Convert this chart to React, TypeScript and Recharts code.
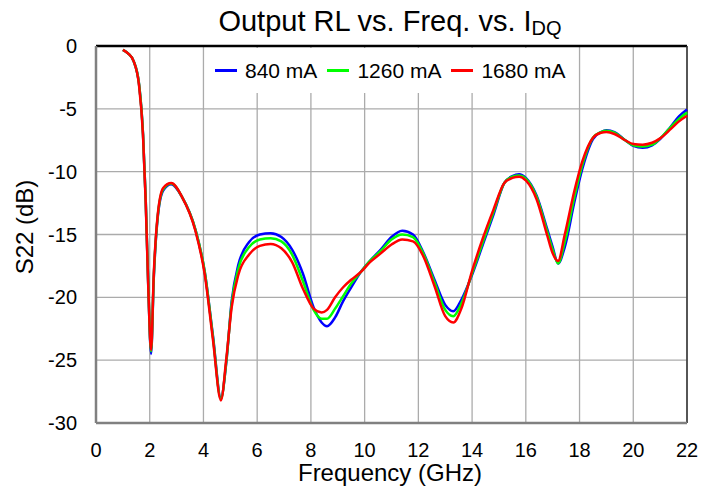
import React from "react";
import { LineChart, Line, XAxis, YAxis, CartesianGrid, ReferenceLine } from "recharts";

// frequency grid (GHz) shared by the three bias curves
const freqGHz = [
  1.0, 1.2, 1.4, 1.6, 1.75, 1.85, 1.95, 2.05, 2.15, 2.3, 2.5, 2.8, 3.2, 3.7, 4.05, 4.35, 4.65, 4.85, 5.05, 5.3,
  5.7, 6.1, 6.5, 6.9, 7.3, 7.7, 8.1, 8.4, 8.6, 8.9, 9.2, 9.5, 9.85, 10.2, 10.6, 11.0, 11.4, 11.8, 12.2, 12.6,
  13.0, 13.3, 13.6, 14.0, 14.4, 14.8, 15.2, 15.5, 15.75, 16.0, 16.4, 16.8, 17.0, 17.2, 17.45, 17.8, 18.1, 18.5,
  18.8, 19.0, 19.3, 19.7, 20.0, 20.35, 20.7, 21.0, 21.4, 21.7, 22.0,
];

// S22 (dB)
const s22_840mA = [
  -0.3, -0.6, -1.2, -3.0, -7.0, -12.2, -19.4, -24.5, -18.5, -13.6, -11.5, -11.0, -12.0, -14.6, -18.0, -23.0, -28.0, -25.2, -20.3, -17.4,
  -15.6, -15.0, -14.9, -15.2, -16.2, -18.1, -20.8, -22.0, -22.3, -21.6, -20.3, -19.2, -18.0, -17.1, -16.2, -15.2, -14.7, -15.0, -16.5, -18.6,
  -20.6, -21.1, -20.2, -18.2, -15.8, -13.4, -10.9, -10.35, -10.2, -10.5, -11.9, -14.6, -16.0, -17.3, -16.0, -12.5, -9.8, -7.4,
  -6.85, -6.7, -6.85, -7.5, -7.95, -8.1, -7.9, -7.4, -6.4, -5.6, -5.05,
];
const s22_1260mA = [
  -0.3, -0.6, -1.2, -3.0, -7.0, -12.2, -19.3, -24.3, -18.4, -13.5, -11.4, -10.95, -12.0, -14.6, -18.0, -23.1, -28.1, -25.1, -20.5, -17.7,
  -16.0, -15.4, -15.3, -15.55, -16.6, -18.7, -21.0, -21.7, -21.7, -20.9, -19.9, -18.9, -18.0, -17.1, -16.3, -15.4, -15.0, -15.2, -16.6, -18.8,
  -21.0, -21.5, -20.5, -18.1, -15.6, -13.2, -10.9, -10.4, -10.3, -10.55, -12.0, -14.8, -16.2, -17.3, -15.6, -12.1, -9.5, -7.3,
  -6.85, -6.75, -6.9, -7.5, -7.9, -8.0, -7.85, -7.35, -6.45, -5.8, -5.3,
];
const s22_1680mA = [
  -0.3, -0.6, -1.2, -3.1, -7.1, -12.4, -19.5, -24.2, -18.2, -13.4, -11.3, -10.9, -12.0, -14.7, -18.2, -23.3, -28.2, -24.9, -20.8, -18.2,
  -16.6, -15.9, -15.75, -16.1, -17.2, -19.3, -20.9, -21.2, -21.0, -20.0, -19.2, -18.6, -18.0, -17.2, -16.5, -15.8, -15.4, -15.55, -16.8, -19.1,
  -21.5, -22.0, -20.9, -17.9, -15.3, -13.0, -10.9, -10.5, -10.4, -10.7, -12.2, -15.1, -16.5, -17.1, -15.0, -11.6, -9.2, -7.3,
  -6.9, -6.85, -7.0, -7.5, -7.8, -7.85, -7.7, -7.35, -6.6, -6.0, -5.55,
];

const xTicks = [0, 2, 4, 6, 8, 10, 12, 14, 16, 18, 20, 22];
const yTicks = [-30, -25, -20, -15, -10, -5, 0];

const seriesNames = ["840 mA", "1260 mA", "1680 mA"];
const seriesColors = ["#0000ff", "#00ff00", "#ff0000"];

const data = freqGHz.map((f, i) => ({
  f,
  a: s22_840mA[i],
  b: s22_1260mA[i],
  c: s22_1680mA[i],
}));

const FONT = '"Liberation Sans", Arial, sans-serif';

export default function App() {
  const tick = { fill: "#000", fontSize: 20, fontFamily: FONT };
  return (
    <div style={{ position: "absolute", left: 0, top: 0, width: 701, height: 489, background: "#fff", fontFamily: FONT }}>
      <LineChart width={701} height={489} data={data} margin={{ top: 46, right: 14, bottom: 36, left: 36 }}>
        <CartesianGrid stroke="#ababab" strokeWidth={1.3} />
        <XAxis
          type="number"
          dataKey="f"
          domain={[0, 22]}
          ticks={xTicks}
          tickSize={0}
          tickMargin={20}
          tick={tick}
          axisLine={{ stroke: "#808080", strokeWidth: 2.5 }}
          height={30}
        />
        <YAxis
          type="number"
          domain={[-30, 0]}
          ticks={yTicks}
          tickSize={0}
          tickMargin={19}
          tick={tick}
          axisLine={{ stroke: "#808080", strokeWidth: 2.5 }}
          width={60}
        />
        <ReferenceLine y={0} stroke="#000" strokeWidth={2.5} />
        <ReferenceLine x={22} stroke="#303030" strokeWidth={1.5} />
        <Line dataKey="a" type="monotone" stroke={seriesColors[0]} strokeWidth={2.5} dot={false} isAnimationActive={false} />
        <Line dataKey="b" type="monotone" stroke={seriesColors[1]} strokeWidth={2.5} dot={false} isAnimationActive={false} />
        <Line dataKey="c" type="monotone" stroke={seriesColors[2]} strokeWidth={2.5} dot={false} isAnimationActive={false} />
      </LineChart>

      {/* title */}
      <div
        style={{
          position: "absolute",
          left: 0,
          width: 780,
          top: 7,
          textAlign: "center",
          fontSize: 29,
          lineHeight: "29px",
          color: "#000",
          whiteSpace: "nowrap",
        }}
      >
        Output RL vs. Freq. vs. I<sub style={{ fontSize: 20, lineHeight: 0, verticalAlign: "-4px" }}>DQ</sub>
      </div>

      {/* legend box, sits over the gridlines */}
      <div
        style={{
          position: "absolute",
          left: 210,
          top: 48,
          width: 366,
          height: 45,
          background: "#fff",
          display: "flex",
          alignItems: "center",
          fontSize: 21,
          color: "#000",
        }}
      >
        {seriesNames.map((name, i) => (
          <div key={name} style={{ display: "flex", alignItems: "center", marginLeft: i === 0 ? 5 : 10 }}>
            <span style={{ display: "inline-block", width: 22, height: 2.5, background: seriesColors[i], marginRight: 8 }} />
            <span>{name}</span>
          </div>
        ))}
      </div>

      {/* axis titles */}
      <div
        style={{
          position: "absolute",
          left: 0,
          width: 780,
          top: 461,
          textAlign: "center",
          fontSize: 24,
          lineHeight: "24px",
          color: "#000",
          whiteSpace: "nowrap",
        }}
      >
        Frequency (GHz)
      </div>
      <div
        style={{
          position: "absolute",
          left: 25,
          top: 227,
          transform: "translate(-50%, -50%) rotate(-90deg)",
          fontSize: 24,
          lineHeight: "24px",
          color: "#000",
          whiteSpace: "nowrap",
        }}
      >
        S22 (dB)
      </div>
    </div>
  );
}
